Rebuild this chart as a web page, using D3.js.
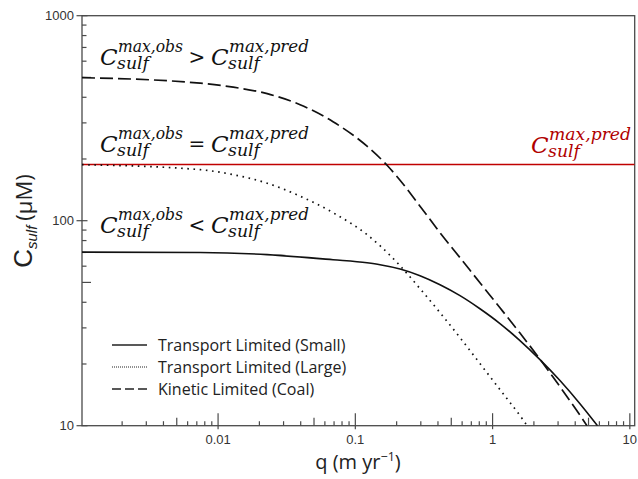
<!DOCTYPE html>
<html>
<head>
<meta charset="utf-8">
<script src="https://cdn.jsdelivr.net/npm/d3@7"></script>
<style>
  body { margin: 0; background: #fff; }
  svg { display: block; }
</style>
</head>
<body>
<div id="chart"></div>
<script>
// values (q in m/yr, C in µM)
const qSmall = [0.00102, 0.0074, 0.0228, 0.0688, 0.1217, 0.1513, 0.2117, 0.296, 0.414, 0.579, 0.809, 1.132, 1.583, 2.214, 3.097, 4.331, 5.81];
const cSmall = [70.3, 70.0, 68.3, 64.5, 62.3, 61.0, 58.1, 53.9, 48.7, 43.1, 37.2, 31.5, 26.0, 21.0, 16.6, 12.8, 10];

const qLarge = [0.00102, 0.0074, 0.0129, 0.0228, 0.0396, 0.0688, 0.1217, 0.1513, 0.2117, 0.296, 0.414, 0.579, 0.809, 1.132, 1.583, 1.751];
const cLarge = [187.6, 177.4, 167.7, 152.4, 131.7, 109.4, 85.5, 75.5, 60.3, 46.6, 35.6, 26.9, 20.1, 15.0, 11.2, 10.2];

const qCoal = [0.00102, 0.0074, 0.0129, 0.0228, 0.0396, 0.0688, 0.1217, 0.1702, 0.2117, 0.296, 0.414, 0.579, 0.809, 1.132, 1.583, 2.214, 3.097, 4.331, 4.87];
const cCoal = [498.5, 468.5, 448, 416.5, 368, 304, 230.9, 186.5, 157.6, 117.7, 87.4, 66.0, 49.8, 37.6, 28.3, 21.1, 15.5, 11.25, 10];

const cMaxPred = 188;

const xTicks = [0.01, 0.1, 1, 10];
const xTickLabels = ["0.01", "0.1", "1", "10"];
const yTicks = [10, 100, 1000];
const yTickLabels = ["10", "100", "1000"];

const legendNames = ["Transport Limited (Small)", "Transport Limited (Large)", "Kinetic Limited (Coal)"];

const W = 638, H = 479;
const margin = {top: 15.7, right: 3.3, bottom: 53.3, left: 82};
const width = W - margin.left - margin.right,
  height = H - margin.top - margin.bottom;

const svg = d3.select("#chart").append("svg")
  .attr("width", W).attr("height", H);

const g = svg.append("g")
  .attr("transform", `translate(${margin.left},${margin.top})`);

const x = d3.scaleLog().domain([0.00102, 10.85]).range([0, width]);
const y = d3.scaleLog().domain([10, 1000]).range([height, 0]);

svg.append("defs").append("clipPath").attr("id", "plotclip")
  .append("rect").attr("width", width).attr("height", height);

const axisColor = "#4a4a4a";
const tickFont = "'Liberation Sans', Arial, sans-serif";

// minor ticks
const xMinor = [];
for (let e = -3; e <= 1; e++) for (let m = 1; m <= 9; m++) {
  const v = m * Math.pow(10, e);
  if (v >= x.domain()[0] && v <= x.domain()[1]) xMinor.push({v, m});
}
const yMinor = [];
for (let e = 1; e <= 2; e++) for (let m = 1; m <= 9; m++) yMinor.push({v: m * Math.pow(10, e), m});
yMinor.push({v: 1000, m: 1});

g.selectAll(".xtick").data(xMinor).join("line")
  .attr("x1", d => x(d.v)).attr("x2", d => x(d.v))
  .attr("y1", d => d.m === 1 ? height + 3.5 : height)
  .attr("y2", d => height - (d.m === 1 ? 12.5 : d.m === 5 ? 8 : 4.5))
  .attr("stroke", axisColor).attr("stroke-width", 1.2);

g.selectAll(".ytick").data(yMinor).join("line")
  .attr("y1", d => y(d.v)).attr("y2", d => y(d.v))
  .attr("x1", d => d.m === 1 ? -5.5 : 0)
  .attr("x2", d => d.m === 1 ? 5.5 : d.m === 5 ? 9 : 4.5)
  .attr("stroke", axisColor).attr("stroke-width", 1.2);

// frame
g.append("rect")
  .attr("width", width).attr("height", height)
  .attr("fill", "none").attr("stroke", axisColor).attr("stroke-width", 1.3);

// tick labels
g.selectAll(".xlab").data(xTicks).join("text")
  .attr("x", d => x(d)).attr("y", height + 18.5)
  .attr("text-anchor", "middle")
  .attr("font-family", tickFont).attr("font-size", 13).attr("fill", "#333")
  .text((d, i) => xTickLabels[i]);

g.selectAll(".ylab").data(yTicks).join("text")
  .attr("x", -8).attr("y", d => y(d)).attr("dy", "0.36em")
  .attr("text-anchor", "end")
  .attr("font-family", tickFont).attr("font-size", 13).attr("fill", "#333")
  .text((d, i) => yTickLabels[i]);

// axis titles
const xTitle = svg.append("text")
  .attr("x", 358).attr("y", 469)
  .attr("text-anchor", "middle")
  .attr("font-family", "'Open Sans', sans-serif").attr("font-size", 20).attr("fill", "#222");
xTitle.append("tspan").text("q (m yr");
xTitle.append("tspan").attr("font-size", 12.5).attr("dy", -8).text("\u22121");
xTitle.append("tspan").attr("dy", 8).text(")");

const yTitle = svg.append("text")
  .attr("transform", "translate(32,221) rotate(-90)")
  .attr("text-anchor", "middle")
  .attr("fill", "#222");
yTitle.append("tspan").attr("font-family", tickFont).attr("font-size", 26).text("C");
yTitle.append("tspan").attr("font-family", tickFont).attr("font-style", "italic")
  .attr("font-size", 15).attr("dy", 5).text("sulf");
yTitle.append("tspan").attr("font-family", "'Open Sans', sans-serif")
  .attr("font-size", 22).attr("dy", -5).attr("dx", 5).text("(\u03bcM)");

// curves
const plot = g.append("g").attr("clip-path", "url(#plotclip)");
const line = d3.line().x(d => x(d[0])).y(d => y(d[1])).curve(d3.curveMonotoneX);

plot.append("line")
  .attr("x1", 0).attr("x2", width)
  .attr("y1", y(cMaxPred)).attr("y2", y(cMaxPred))
  .attr("stroke", "#c00000").attr("stroke-width", 1.6);

plot.append("path")
  .datum(qSmall.map((q, i) => [q, cSmall[i]]))
  .attr("d", line).attr("fill", "none")
  .attr("stroke", "#111").attr("stroke-width", 1.6);

plot.append("path")
  .datum(qLarge.map((q, i) => [q, cLarge[i]]))
  .attr("d", line).attr("fill", "none")
  .attr("stroke", "#111").attr("stroke-width", 1.7)
  .attr("stroke-dasharray", "1.6,4.6");

plot.append("path")
  .datum(qCoal.map((q, i) => [q, cCoal[i]]))
  .attr("d", line).attr("fill", "none")
  .attr("stroke", "#111").attr("stroke-width", 1.7)
  .attr("stroke-dasharray", "13,5");

// legend
const legendDash = [null, "1,1", "9,4"];
const legendWidth = [1.5, 1.1, 1.6];
const legend = svg.append("g").attr("transform", "translate(112,345)");
legendNames.forEach((name, i) => {
  const row = legend.append("g").attr("transform", `translate(0,${i * 22})`);
  row.append("line")
    .attr("x1", 0).attr("x2", 35).attr("y1", 0).attr("y2", 0)
    .attr("stroke", "#222").attr("stroke-width", legendWidth[i])
    .attr("stroke-dasharray", legendDash[i]);
  row.append("text")
    .attr("x", 46).attr("y", 5.5)
    .attr("font-family", "'Open Sans', sans-serif").attr("font-size", 16).attr("fill", "#222")
    .text(name);
});

// math annotations: C with stacked super/subscript in one text element
const mathFont = "'DejaVu Serif', serif";
function cTerm(x0, base, sup, supLen, color) {
  const t = svg.append("text")
    .attr("x", x0).attr("y", base)
    .attr("font-family", mathFont).attr("font-style", "italic").attr("fill", color);
  t.append("tspan").attr("font-size", 23).text("C");
  t.append("tspan").attr("x", x0 + 18).attr("dy", -13).attr("font-size", 16)
    .attr("textLength", supLen).attr("lengthAdjust", "spacingAndGlyphs")
    .text(sup);
  t.append("tspan").attr("x", x0 + 17).attr("dy", 17).attr("font-size", 16)
    .attr("textLength", 32).attr("lengthAdjust", "spacingAndGlyphs")
    .text("sulf");
}
const relations = [">", "=", "<"];
const relBase = [65, 152, 233];
relations.forEach((r, i) => {
  cTerm(100, relBase[i], "max,obs", 65, "#111");
  svg.append("text").attr("x", 197).attr("y", relBase[i] - 1)
    .attr("text-anchor", "middle")
    .attr("font-family", mathFont).attr("font-size", 20).attr("fill", "#111")
    .text(r);
  cTerm(211, relBase[i], "max,pred", 80, "#111");
});
cTerm(531, 153, "max,pred", 82, "#b00000");
</script>
</body>
</html>
